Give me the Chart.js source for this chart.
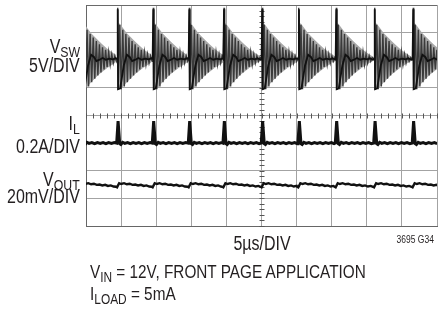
<!DOCTYPE html>
<html>
<head>
<meta charset="utf-8">
<script src="https://cdn.jsdelivr.net/npm/chart.js@4.4.1/dist/chart.umd.min.js"></script>
<style>
  html, body { margin: 0; padding: 0; background: #fff; }
  #wrap { position: relative; width: 438px; height: 309px; overflow: hidden; }
  canvas { position: absolute; left: 0; top: 0; }
  .t { position: absolute; white-space: nowrap; color: #231f20;
       font-family: "Liberation Sans", Arial, sans-serif; }
  .lab { font-size: 19.5px; line-height: 19.5px; right: 358px; text-align: right;
         transform: scaleX(0.82); transform-origin: right center; }
  .bot { font-size: 18.7px; line-height: 18.7px; left: 90px;
         transform: scaleX(0.82); transform-origin: left center; }
  .sb { font-size: 15px; line-height: 0; position: relative; top: 4px; }
  .sb2 { font-size: 14.5px; line-height: 0; position: relative; top: 4px; }
</style>
</head>
<body>
<div id="wrap">
  <canvas id="c" width="438" height="309"></canvas>
  <div class="t lab" style="top:36.5px">V<span class="sb">SW</span></div>
  <div class="t lab" style="top:55.5px">5V/DIV</div>
  <div class="t lab" style="top:113.5px">I<span class="sb">L</span></div>
  <div class="t lab" style="top:136.5px">0.2A/DIV</div>
  <div class="t lab" style="top:169.5px">V<span class="sb">OUT</span></div>
  <div class="t lab" style="top:186.5px">20mV/DIV</div>
  <div class="t" style="top:233.5px; left:211.5px; width:100px; text-align:center; font-size:19.5px; line-height:19.5px; transform:scaleX(0.82); transform-origin:center center;">5µs/DIV</div>
  <div class="t" style="top:234.5px; right:4px; font-size:10px; line-height:10px; transform:scaleX(0.85); transform-origin:right center;">3695 G34</div>
  <div class="t bot" style="top:263.2px;">V<span class="sb2">IN</span> = 12V, FRONT PAGE APPLICATION</div>
  <div class="t bot" style="top:284.7px;">I<span class="sb2">LOAD</span> = 5mA</div>
</div>
<script>
// ---- Data (x in µs, y in divisions, 0 = bottom line) ----
const xMin = 0, xMax = 50;         // 10 div x 5 µs
const yMin = 0, yMax = 8;          // 8 vertical divisions
// switching edges (µs)
const switchTimes = [-0.57, 4.52, 9.59, 14.72, 19.66, 25.11, 30.34, 35.66, 41.13, 46.62];

// V_SW ringing after an edge (time after edge µs, level div)
const vswRingT = [-0.08, 0.0, 0.06, 0.28, 0.5, 0.72, 0.94, 1.16, 1.38, 1.6, 1.82, 2.04, 2.26, 2.48, 2.7, 2.92, 3.14, 3.36, 3.58, 3.8, 4.02, 4.24, 4.46, 4.68, 4.9, 5.12, 5.4];
const vswRingV = [6.05, 7.9, 4.92, 7.28, 4.95, 7.1, 5.05, 6.95, 5.2, 6.82, 5.33, 6.7, 5.45, 6.58, 5.56, 6.47, 5.67, 6.38, 5.76, 6.3, 5.84, 6.22, 5.9, 6.16, 5.96, 6.1, 6.02];
// V_SW ringing envelope (persistence band)
const vswEnvT  = [0.06, 0.3, 0.8, 1.3, 1.8, 2.4, 3.0, 3.6, 4.2, 4.8, 5.3];
const vswEnvHi = [7.35, 7.32, 7.15, 6.98, 6.85, 6.7, 6.55, 6.42, 6.3, 6.2, 6.12];
const vswEnvLo = [4.95, 4.95, 5.05, 5.2, 5.33, 5.48, 5.6, 5.72, 5.82, 5.92, 5.98];
// V_SW mean (dark) trace
const vswMeanT = [-0.1, 0.0, 0.05, 0.35, 0.85, 1.3, 1.7, 2.05, 2.5, 2.95, 3.4, 3.9, 4.4, 4.8, 5.2, 5.5];
const vswMeanV = [6.05, 7.85, 4.95, 4.98, 5.8, 6.2, 6.12, 5.97, 6.02, 6.08, 6.02, 6.06, 6.03, 6.07, 6.02, 6.05];
// inductor current
const ilT = [-0.15, 0.05, 0.28, 0.45, 0.7, 1.0, 1.4, 1.8, 2.2, 2.6, 3.0, 3.4, 3.8, 4.2, 4.6, 5.0, 5.4];
const ilV = [3.0, 3.8, 2.98, 2.95, 3.03, 2.99, 3.02, 2.98, 3.02, 2.99, 3.02, 2.98, 3.02, 2.99, 3.02, 2.98, 3.01];
// output voltage ripple
const voutT = [-0.25, -0.1, 0.2, 0.5, 0.9, 1.3, 1.7, 2.1, 2.5, 2.9, 3.3, 3.7, 4.1, 4.5, 4.9, 5.3];
const voutV = [1.42, 1.4, 1.55, 1.52, 1.55, 1.51, 1.53, 1.49, 1.5, 1.47, 1.49, 1.45, 1.47, 1.43, 1.45, 1.42];

// place a per-edge trace at each switching edge
function place(dts, vals, gaps) {
  const pts = [];
  switchTimes.forEach((s, k) => {
    const next = k + 1 < switchTimes.length ? switchTimes[k + 1] + dts[0] : Infinity;
    let last = s;
    dts.forEach((d, i) => {
      const x = s + d;
      if (x < next) { pts.push({ x: x, y: vals[i] }); last = x; }
    });
    if (gaps) pts.push({ x: last + 0.001, y: null });
  });
  return pts;
}

const common = { pointRadius: 0, tension: 0, fill: false, spanGaps: false };

const centerTicks = {
  id: 'centerTicks',
  beforeDatasetsDraw(chart) {
    const { ctx, scales: { x, y } } = chart;
    const cx = x.getPixelForValue(25), cy = y.getPixelForValue(4);
    ctx.save();
    ctx.strokeStyle = '#555';
    ctx.lineWidth = 1;
    ctx.beginPath();
    for (let v = 0; v <= 8.001; v += 0.2) {
      const py = Math.round(y.getPixelForValue(v)) + 0.5;
      ctx.moveTo(cx - 2, py); ctx.lineTo(cx + 3, py);
    }
    for (let t = 0; t <= 50.001; t += 1) {
      const px = Math.round(x.getPixelForValue(t)) + 0.5;
      ctx.moveTo(px, cy - 2); ctx.lineTo(px, cy + 3);
    }
    ctx.stroke();
    ctx.restore();
  }
};

new Chart(document.getElementById('c'), {
  type: 'line',
  data: {
    datasets: [
      Object.assign({}, common, { label: 'VSW mean', data: place(vswMeanT, vswMeanV, false), borderColor: '#111', borderWidth: 1.8, order: 0 }),
      Object.assign({}, common, { label: 'IL', data: place(ilT, ilV, false), borderColor: '#111', borderWidth: 3, order: 1 }),
      Object.assign({}, common, { label: 'VOUT', data: place(voutT, voutV, false), borderColor: '#111', borderWidth: 2.4, order: 2 }),
      Object.assign({}, common, { label: 'VSW ring', data: place(vswRingT, vswRingV, false), borderColor: '#3a3a3a', borderWidth: 1.4, order: 3 }),
      Object.assign({}, common, { label: 'VSW env hi', data: place(vswEnvT, vswEnvHi, true), borderColor: 'rgba(0,0,0,0)', borderWidth: 0, backgroundColor: '#a9a9a9', fill: { target: 5 }, order: 4 }),
      Object.assign({}, common, { label: 'VSW env lo', data: place(vswEnvT, vswEnvLo, true), borderColor: 'rgba(0,0,0,0)', borderWidth: 0, order: 5 })
    ]
  },
  options: {
    responsive: false,
    animation: false,
    devicePixelRatio: 1,
    layout: { padding: { left: 86, right: 1, top: 5, bottom: 83 } },
    plugins: { legend: { display: false }, tooltip: { enabled: false }, title: { display: false } },
    scales: {
      x: {
        type: 'linear', min: xMin, max: xMax,
        ticks: { display: false, stepSize: 5 },
        grid: { color: '#a3a3a3', lineWidth: 1, drawTicks: false },
        border: { display: true, color: '#666', width: 1 }
      },
      y: {
        type: 'linear', min: yMin, max: yMax,
        ticks: { display: false, stepSize: 1 },
        grid: { color: (c) => (c.tick && c.tick.value === yMax ? '#6a6a6a' : '#a3a3a3'), lineWidth: 1, drawTicks: false },
        border: { display: true, color: '#666', width: 1 }
      }
    }
  },
  plugins: [centerTicks]
});
</script>
</body>
</html>
